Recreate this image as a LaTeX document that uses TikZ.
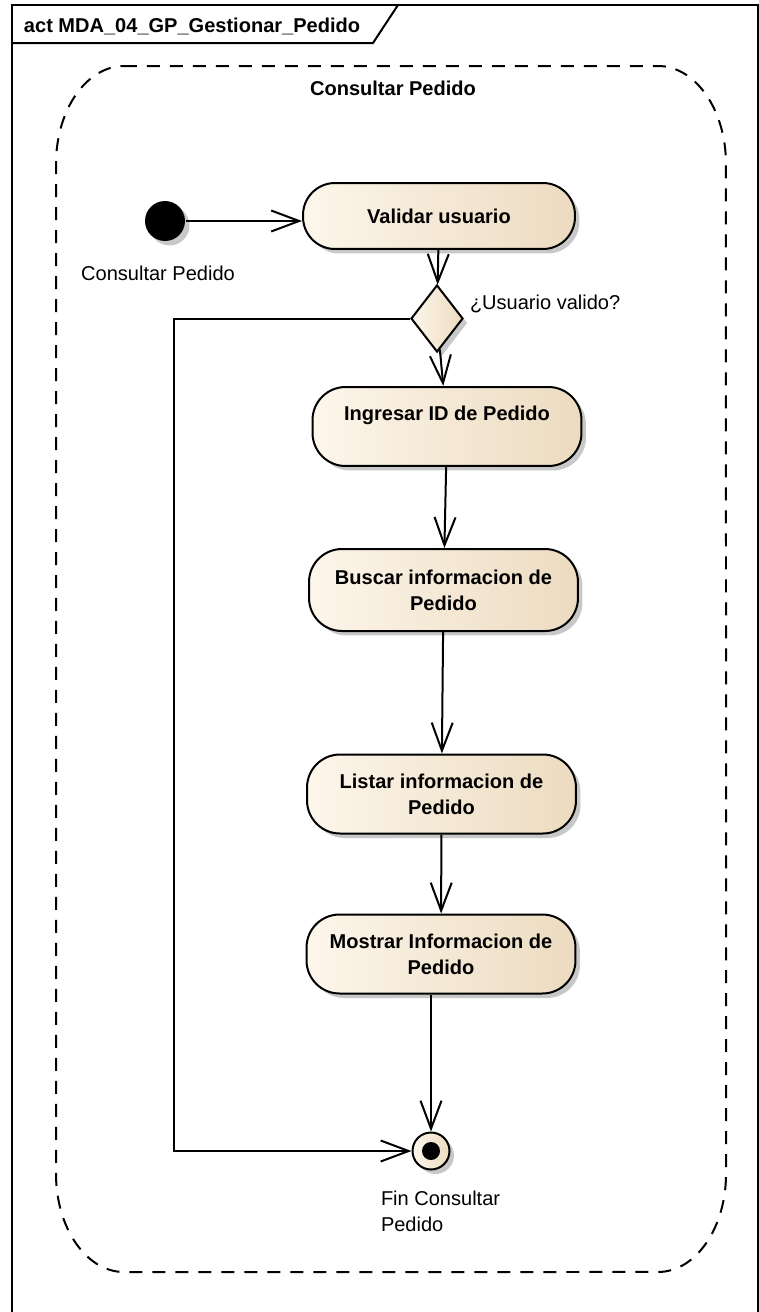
\documentclass[tikz,border=0pt]{standalone}
\usepackage{fontspec}
\setmainfont{Liberation Sans}
\usetikzlibrary{arrows.meta,positioning,shapes.geometric,shadows}
\definecolor{cream}{RGB}{253,246,235}
\definecolor{creammid}{RGB}{250,239,222}
\definecolor{tan}{RGB}{236,219,192}
\definecolor{ink}{RGB}{0,0,0}
\definecolor{shade}{RGB}{200,200,200}

\begin{document}
\begin{tikzpicture}[x=0.02cm,y=-0.02cm,line width=0.04cm,
    umlshadow/.style={drop shadow={shadow xshift=0.09cm,shadow yshift=-0.09cm,fill=shade,opacity=1}},
    action/.style={rectangle,rounded corners=0.66cm,draw=ink,left color=cream,middle color=creammid,right color=tan,
      minimum width=5.38cm,minimum height=1.58cm,align=center,font=\fontsize{11.4pt}{14.8pt}\selectfont\bfseries,umlshadow},
    decision/.style={diamond,draw=ink,left color=cream,right color=tan,minimum width=1.04cm,minimum height=1.34cm,inner sep=0pt,umlshadow},
    caption/.style={inner sep=0pt,font=\fontsize{11.4pt}{14.8pt}\selectfont},
    flow/.style={draw=ink,-{Straight Barb[length=0.56cm,width=0.42cm]}}]
  \useasboundingbox (0,0) rectangle (758,1312);
  % frame and region
  \draw[ink] (12,5) rectangle (757.5,1314);
  \draw[ink] (12,43) -- (373,43) -- (398,5);
  \node[caption,font=\fontsize{11.4pt}{14.8pt}\selectfont\bfseries,anchor=base west] (title) at (23,32) {act MDA\_04\_GP\_Gestionar\_Pedido};
  \draw[ink,dash pattern=on 0.26cm off 0.2cm] (124,66) -- (658,66) arc[start angle=90,end angle=0,x radius=1.36cm,y radius=1.96cm]
    -- (726,1174) arc[start angle=0,end angle=-90,x radius=1.36cm,y radius=1.96cm]
    -- (124,1272) arc[start angle=270,end angle=180,x radius=1.36cm,y radius=1.96cm]
    -- (56,164) arc[start angle=180,end angle=90,x radius=1.36cm,y radius=1.96cm] -- cycle;
  \node[caption,font=\fontsize{11.4pt}{14.8pt}\selectfont\bfseries,anchor=base] (region) at (393,95) {Consultar Pedido};
  % nodes
  \node[circle,fill=ink,minimum size=0.8cm,inner sep=0pt,umlshadow] (init) at (165,221) {};
  \node[caption,anchor=base] (initlbl) at (158,280) {Consultar Pedido};
  \node[action,minimum width=5.44cm,minimum height=1.32cm,rounded corners=0.64cm] (val) at (439,216) {Validar usuario};
  \node[decision] (dia) at (437,318.5) {};
  \node[caption,anchor=base west] (dialbl) at (469,309) {¿Usuario valido?};
  \node[action] (ing) at (447,426.5) {Ingresar ID de Pedido\\\mbox{}};
  \node[action,minimum height=1.64cm] (bus) at (443.5,590) {Buscar informacion de\\Pedido};
  \node[action] (lis) at (441.5,794) {Listar informacion de\\Pedido};
  \node[action] (mos) at (441,954) {Mostrar Informacion de\\Pedido};
  \node[circle,draw=ink,left color=cream,right color=tan,minimum size=0.74cm,inner sep=0pt,umlshadow,
    path picture={\fill[ink] (path picture bounding box.center) circle (0.18cm);}] (fin) at (431,1151) {};
  \node[caption,align=left,anchor=north west] (finlbl) at (380,1189.5) {Fin Consultar\\Pedido};
  \coordinate (loop) at (174,1151);
  % flows
  \draw[flow] (init) -- (init -| val.west);
  \draw[flow] (val) -- (dia);
  \draw[flow] (dia) -- (ing);
  \draw[flow] (ing) -- (bus);
  \draw[flow] (bus) -- (lis);
  \draw[flow] (lis) -- (mos);
  \draw[flow] (mos.south -| fin) -- (fin);
  \draw[flow] (dia.west) -| (loop) -- (fin.west);
\end{tikzpicture}
\end{document}
